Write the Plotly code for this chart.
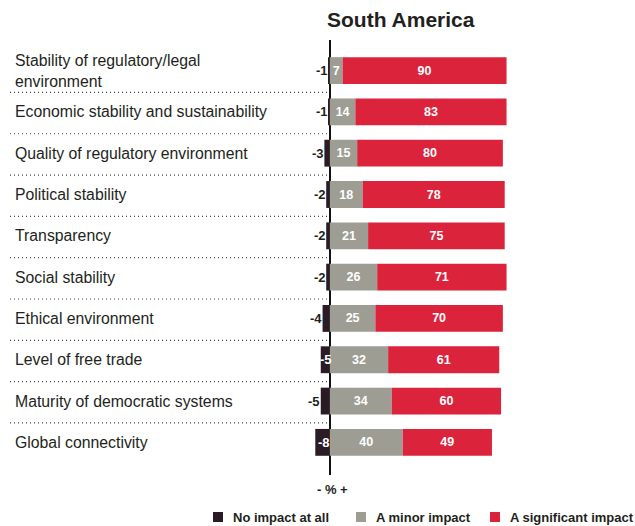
import plotly.graph_objects as go

# Survey results: impact of each factor on business in South America (%)
factors = [
    "Stability of regulatory/legal<br>environment",
    "Economic stability and sustainability",
    "Quality of regulatory environment",
    "Political stability",
    "Transparency",
    "Social stability",
    "Ethical environment",
    "Level of free trade",
    "Maturity of democratic systems",
    "Global connectivity",
]
no_impact = [-1, -1, -3, -2, -2, -2, -4, -5, -5, -8]
minor_impact = [7, 14, 15, 18, 21, 26, 25, 32, 34, 40]
significant_impact = [90, 83, 80, 78, 75, 71, 70, 61, 60, 49]

series_names = ["No impact at all", "A minor impact", "A significant impact"]
colors = ["#2a1b25", "#9d9d94", "#dc233c"]

# rows whose negative label sits on top of the dark bar
inside_neg_labels = {"Level of free trade", "Global connectivity"}

W, H = 635, 526
M_L, M_R, M_T, M_B = 308, 123, 40, 51
X_RANGE = [-12, 100]
Y_RANGE = [len(factors) - 0.21, -0.74]
FONT = "Liberation Sans, Arial, sans-serif"
TEXT_COLOR = "#231f20"

ypos = list(range(len(factors)))

fig = go.Figure()
fig.add_trace(go.Bar(
    y=ypos, x=no_impact, orientation="h", name=series_names[0],
    marker=dict(color=colors[0], line=dict(width=0)), width=0.65,
    hoverinfo="x+name",
))
for vals, name, col in [(minor_impact, series_names[1], colors[1]),
                        (significant_impact, series_names[2], colors[2])]:
    fig.add_trace(go.Bar(
        y=ypos, x=vals, orientation="h", name=name,
        marker=dict(color=col, line=dict(width=0)), width=0.65,
        text=[str(v) for v in vals], texttemplate="%{text}",
        textposition="inside", insidetextanchor="middle", textangle=0,
        constraintext="none",
        insidetextfont=dict(family=FONT, size=12.5, color="white", weight="bold"),
        hoverinfo="x+name",
    ))

annotations = []
shapes = []
plot_w = W - M_L - M_R
plot_h = H - M_T - M_B
span = X_RANGE[1] - X_RANGE[0]


def px_to_paper_x(px):
    return (px - M_L) / plot_w


def px_to_paper_y(py):
    return (H - M_B - py) / plot_h


zero_paper = (0 - X_RANGE[0]) / span

# factor names down the left side
for i, f in enumerate(factors):
    annotations.append(dict(
        x=px_to_paper_x(13), xref="paper", y=i, yref="y", text=f,
        xanchor="left", yanchor="middle", align="left", showarrow=False,
        font=dict(family=FONT, size=15.8, color=TEXT_COLOR),
    ))

# values of the "no impact" segments
for i, (f, v) in enumerate(zip(factors, no_impact)):
    if f in inside_neg_labels:
        annotations.append(dict(
            x=v / 2, xref="x", y=i, yref="y", text=str(v), xanchor="center",
            showarrow=False, xshift=1,
            font=dict(family=FONT, size=13, color="white", weight="bold"),
        ))
    else:
        annotations.append(dict(
            x=v, xref="x", y=i, yref="y", text=str(v), xanchor="right",
            showarrow=False, xshift=1.5,
            font=dict(family=FONT, size=13, color=TEXT_COLOR, weight="bold"),
        ))

annotations.append(dict(
    x=0, xref="x", y=0, yref="paper", text="- % +", xanchor="center",
    yanchor="top", yshift=-5, xshift=3, showarrow=False,
    font=dict(family=FONT, size=13, color=TEXT_COLOR, weight="bold"),
))
annotations.append(dict(
    x=px_to_paper_x(401), xref="paper", y=1, yref="paper", text="South America",
    xanchor="center", yanchor="bottom", yshift=7, showarrow=False,
    font=dict(family=FONT, size=21, color=TEXT_COLOR, weight="bold"),
))

# dotted separators between rows
for i in range(len(factors) - 1):
    shapes.append(dict(
        type="line", xref="paper", yref="y", x0=px_to_paper_x(10), x1=zero_paper,
        y0=i + 0.53, y1=i + 0.53,
        line=dict(color="#444444", width=1.2, dash="1px,3px"),
    ))

# legend row along the bottom
legend_sq = [213, 356, 490]
legend_y = 517
for name, col, sx in zip(series_names, colors, legend_sq):
    shapes.append(dict(
        type="rect", xref="paper", yref="paper",
        x0=px_to_paper_x(sx), x1=px_to_paper_x(sx + 10),
        y0=px_to_paper_y(legend_y + 5), y1=px_to_paper_y(legend_y - 5),
        fillcolor=col, line=dict(width=0),
    ))
    annotations.append(dict(
        x=px_to_paper_x(sx + 18), xref="paper", y=px_to_paper_y(legend_y),
        yref="paper", text=name, xanchor="left", yanchor="middle",
        showarrow=False,
        font=dict(family=FONT, size=13, color=TEXT_COLOR, weight="bold"),
    ))

fig.update_layout(
    width=W, height=H, barmode="relative",
    margin=dict(l=M_L, r=M_R, t=M_T, b=M_B),
    paper_bgcolor="white", plot_bgcolor="white",
    font=dict(family=FONT, color=TEXT_COLOR),
    xaxis=dict(range=X_RANGE, showgrid=False, showticklabels=False,
               zeroline=True, zerolinecolor="#111111", zerolinewidth=1.5,
               fixedrange=True),
    yaxis=dict(range=Y_RANGE, showgrid=False, showticklabels=False,
               zeroline=False, fixedrange=True),
    showlegend=False,
    annotations=annotations, shapes=shapes,
)

fig.write_html("out.html")
